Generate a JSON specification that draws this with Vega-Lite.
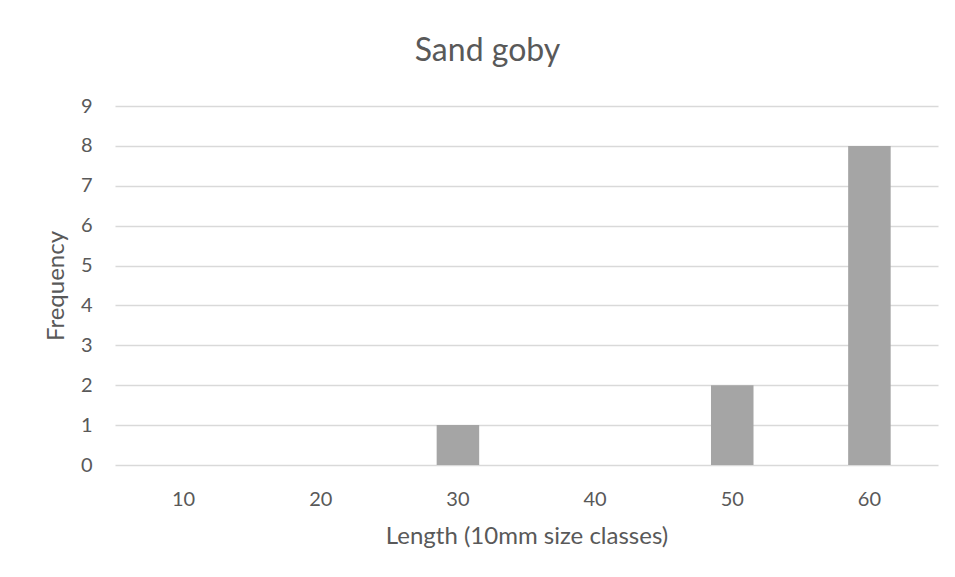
{
  "$schema": "https://vega.github.io/schema/vega-lite/v6.json",
  "autosize": {"type": "none"},
  "width": 823,
  "height": 359,
  "padding": {"left": 115, "top": 106, "right": 17, "bottom": 112},
  "background": "white",
  "config": {"view": {"stroke": null}, "font": "Lato"},
  "title": {"text": "Sand goby", "fontSize": 32, "fontWeight": "normal", "color": "#595959", "anchor": "middle", "frame": "group", "offset": 28, "dx": -39},
  "data": {"values": [
    {"length": "10", "frequency": 0},
    {"length": "20", "frequency": 0},
    {"length": "30", "frequency": 1},
    {"length": "40", "frequency": 0},
    {"length": "50", "frequency": 2},
    {"length": "60", "frequency": 8}
  ]},
  "mark": {"type": "bar", "color": "#A5A5A5"},
  "encoding": {
    "x": {"field": "length", "type": "ordinal", "sort": null,
      "scale": {"paddingInner": 0.69, "paddingOuter": 0.345},
      "axis": {"title": "Length (10mm size classes)", "labelAngle": 0, "labelFontSize": 20, "labelColor": "#595959", "labelPadding": 24, "ticks": false, "domain": false, "titleFontSize": 24, "titleFontWeight": "normal", "titleColor": "#595959", "titleY": 71, "titleBaseline": "middle"}},
    "y": {"field": "frequency", "type": "quantitative",
      "scale": {"domain": [0, 9], "nice": false},
      "axis": {"title": "Frequency", "values": [0,1,2,3,4,5,6,7,8,9], "labelFontSize": 20, "labelColor": "#595959", "labelPadding": 23, "ticks": false, "domain": false, "gridColor": "#D9D9D9", "gridWidth": 1.3, "titleFontSize": 24, "titleFontWeight": "normal", "titleColor": "#595959", "titleX": -59, "titleY": 179.5, "titleAngle": 270, "titleBaseline": "middle", "titleAlign": "center"}}
  }
}
